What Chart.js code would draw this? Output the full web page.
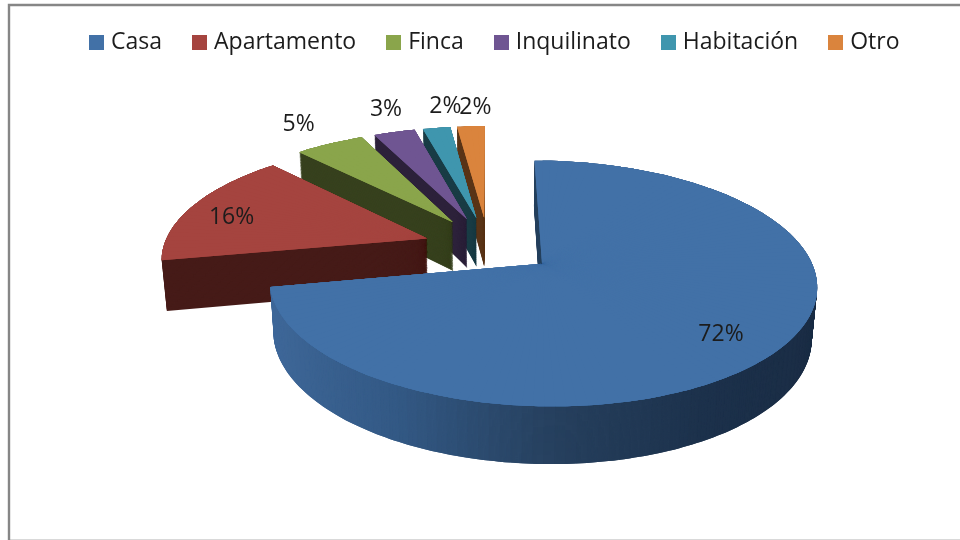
<!DOCTYPE html>
<html>
<head>
<meta charset="utf-8">
<script src="https://cdn.jsdelivr.net/npm/chart.js@4"></script>
<style>
html,body{margin:0;padding:0;background:#fff}
canvas{display:block;filter:blur(0.45px)}
</style>
</head>
<body>
<canvas id="c" width="960" height="540"></canvas>
<script>
const categories = ['Casa','Apartamento','Finca','Inquilinato','Habitación','Otro'];
const shares = [72,16,5,3,2,2];
const topColors = ['#4271A7','#A5443F','#8AA54B','#6F5592','#3F96AE','#DA843D'];
const wallColors = [null,'#461b18','#37411e','#2c213a','#193c45','#5a3518'];
const casaWallStops = [[0,'#40699b'],[0.25,'#345a86'],[0.5,'#27415f'],[0.75,'#1d324c'],[1,'#1a2c44']];
const explosion = [272,256,256,256,256,256];
const sliceLift = [0,-6,0,0,0,0];
const labelReach = [0.78,0.83,1.28,1.28,1.24,1.21];
const labelNudgeX = [-2,0,-1,9,17,7];
const labelNudgeY = [6,6,0,-2,-3,-3];
const FONT = '"Open Sans", sans-serif';

function hex(c){return [1,3,5].map(i=>parseInt(c.substr(i,2),16));}
function wallGradient(t){
  for(let i=1;i<casaWallStops.length;i++){
    const [t0,c0]=casaWallStops[i-1],[t1,c1]=casaWallStops[i];
    if(t<=t1){
      const f=(t-t0)/(t1-t0),a=hex(c0),b=hex(c1);
      return 'rgb('+a.map((v,k)=>Math.round(v+(b[k]-v)*f)).join(',')+')';
    }
  }
  return casaWallStops[casaWallStops.length-1][1];
}

/* camera looking down at the pie plane */
const cam = {x0:488,y0:241.5,sin:0.43,cos:0.903,dist:1523,centerV:-7,depth:56};
function project(u,v,w){
  const f = 1 + (cam.cos*v + cam.sin*w)/cam.dist;
  return [cam.x0 + u/f, cam.y0 - (cam.sin*v - cam.cos*w)/f];
}

function planePoint(i,e,mid,r,ang){
  return [r*Math.cos(ang)+e*Math.cos(mid), -(r*Math.sin(ang)+e*Math.sin(mid))+cam.centerV+sliceLift[i]];
}

function drawWedge(ctx,arc,i,color,a,b,w){
  const R=arc.outerRadius, e=(arc.options.offset||0)/4, mid=(arc.startAngle+arc.endAngle)/2;
  const O=planePoint(i,e,mid,0,0), A=planePoint(i,e,mid,R,a), B=planePoint(i,e,mid,R,b);
  const p0=project(O[0],O[1],w), pa=project(A[0],A[1],w), pb=project(B[0],B[1],w);
  const ax=R*Math.cos(a), ay=R*Math.sin(a), bx=R*Math.cos(b), by=R*Math.sin(b);
  const det=ax*by-ay*bx;
  const dax=pa[0]-p0[0], day=pa[1]-p0[1], dbx=pb[0]-p0[0], dby=pb[1]-p0[1];
  const m11=(dax*by-dbx*ay)/det, m12=(dbx*ax-dax*bx)/det;
  const m21=(day*by-dby*ay)/det, m22=(dby*ax-day*bx)/det;
  const proxy=Object.create(arc);
  proxy.startAngle=a; proxy.endAngle=b; proxy.circumference=b-a;
  proxy.innerRadius=0; proxy.outerRadius=R; proxy.fullCircles=0;
  proxy.options={backgroundColor:color,borderColor:color,borderWidth:0,offset:0,spacing:0,
    borderAlign:'center',borderRadius:0,circular:true,borderDash:[],borderDashOffset:0,borderJoinStyle:'round'};
  ctx.save();
  ctx.transform(m11,m21,m12,m22,p0[0],p0[1]);
  ctx.translate(-arc.x,-arc.y);
  Chart.registry.getElement('arc').prototype.draw.call(proxy,ctx);
  ctx.restore();
}

function swatch(color){
  const s=document.createElement('canvas'); s.width=15; s.height=15;
  const g=s.getContext('2d'); g.fillStyle=color; g.fillRect(0,0,15,15);
  return s;
}

const pie3d = {
  id:'pie3d',
  beforeDraw(chart){
    const ctx=chart.ctx;
    ctx.save();
    ctx.fillStyle='#fff'; ctx.fillRect(0,0,960,540);
    ctx.strokeStyle='#d9d9d9'; ctx.lineWidth=1;
    ctx.beginPath(); ctx.moveTo(8,539.5); ctx.lineTo(960,539.5); ctx.stroke();
    ctx.strokeStyle='#868686'; ctx.lineWidth=2.4;
    ctx.beginPath(); ctx.moveTo(9,540); ctx.lineTo(9,5); ctx.lineTo(960,5); ctx.stroke();
    ctx.restore();
  },
  beforeDatasetDraw(chart,args){
    const ctx=chart.ctx, arcs=args.meta.data;
    const step=2*Math.PI/180;
    for(let i=arcs.length-1;i>=0;i--){
      const arc=arcs[i], s=arc.startAngle, t=arc.endAngle;
      const n=Math.max(1,Math.ceil((t-s)/step));
      const d=(t-s)/n;
      for(let w=cam.depth;w>=0;w-=1){
        for(let k=0;k<n;k++){
          const a=s+d*k, b=Math.min(t,a+2*d);
          const col=wallColors[i]||wallGradient((Math.cos(a+d/2)+1)/2);
          drawWedge(ctx,arc,i,col,a,b,w);
        }
      }
      for(let pass=0;pass<2;pass++){
        for(let k=0;k<n;k++){
          const a=s+d*k, b=Math.min(t,a+2*d);
          drawWedge(ctx,arc,i,topColors[i],a,b,0);
        }
      }
    }
    return false;
  },
  afterDatasetsDraw(chart){
    const ctx=chart.ctx, arcs=chart.getDatasetMeta(0).data;
    ctx.save();
    ctx.fillStyle='#1c1c1c'; ctx.font='23px '+FONT; ctx.textAlign='center'; ctx.textBaseline='middle';
    arcs.forEach((arc,i)=>{
      const e=(arc.options.offset||0)/4, mid=(arc.startAngle+arc.endAngle)/2;
      const P=planePoint(i,e,mid,arc.outerRadius*labelReach[i],mid);
      const p=project(P[0],P[1],0);
      ctx.fillText(shares[i]+'%',p[0]+labelNudgeX[i],p[1]+labelNudgeY[i]);
    });
    ctx.restore();
  }
};

new Chart(document.getElementById('c'),{
  type:'pie',
  data:{labels:categories,datasets:[{data:shares,backgroundColor:topColors,borderWidth:0,offset:explosion,radius:262,clip:false}]},
  options:{
    responsive:false,animation:false,
    layout:{padding:{left:33,top:-4}},
    plugins:{
      tooltip:{enabled:false},
      legend:{position:'top',labels:{usePointStyle:true,pointStyle:'rect',pointStyleWidth:6,boxHeight:15,padding:34.5,color:'#1c1c1c',font:{family:FONT,size:23},
        generateLabels(chart){
          return Chart.overrides.pie.plugins.legend.labels.generateLabels(chart).map((it,i)=>Object.assign(it,{pointStyle:swatch(topColors[i])}));
        }}}
    }
  },
  plugins:[pie3d]
});
</script>
</body>
</html>
